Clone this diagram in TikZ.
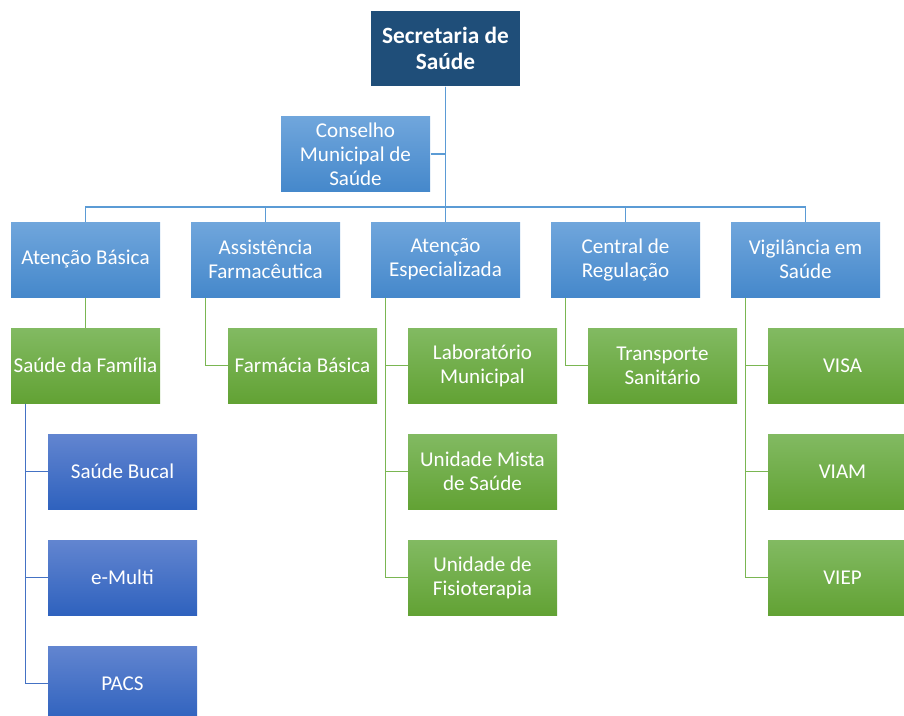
\documentclass[tikz,border=0pt]{standalone}
\usepackage{fontspec}
\setmainfont{Carlito}
\usetikzlibrary{positioning}

\definecolor{secblue}{RGB}{31,78,121}
\definecolor{midtop}{RGB}{112,166,220}
\definecolor{midbot}{RGB}{69,136,203}
\definecolor{grntop}{RGB}{130,186,98}
\definecolor{grnbot}{RGB}{98,162,52}
\definecolor{lowtop}{RGB}{98,133,208}
\definecolor{lowbot}{RGB}{47,98,190}
\definecolor{linblue}{RGB}{91,155,213}
\definecolor{lingrn}{RGB}{122,182,82}
\definecolor{linlow}{RGB}{68,114,196}

\tikzset{
unit/.style={minimum width=111.75pt, minimum height=56.25pt, inner sep=0pt,
    align=center, text=white, font=\fontsize{15.8}{18}\selectfont},
head/.style={unit, fill=secblue, font=\fontsize{17.5}{19.5}\selectfont\bfseries},
dept/.style={unit, top color=midtop, bottom color=midbot},
sector/.style={unit, top color=grntop, bottom color=grnbot},
team/.style={unit, top color=lowtop, bottom color=lowbot},
bluelink/.style={draw=linblue, line width=1.1pt},
greenlink/.style={draw=lingrn, line width=1.1pt},
teamlink/.style={draw=linlow, line width=1.1pt}}
\tikzset{every picture/.style={line width=0.75pt}}

\def\off{11.25pt}

\begin{document}
\begin{tikzpicture}[x=0.75pt,y=0.75pt,yscale=-1,xscale=1]

\useasboundingbox (0,0) rectangle (904,715);
\clip (0,0) rectangle (904,715);

% COORDINATES

\coordinate (bus) at (445.5,207);

% TOP

\node [head] (sec) at (445.5,48.5) {Secretaria de\\Saúde};
\node [dept] (cons) at (355.5,154) {Conselho\\Municipal de\\Saúde};

% DEPARTMENTS

\node [dept] (ab) at (85.5,259.5) {Atenção Básica};
\node [dept] (af) at (265.5,259.5) {Assistência\\Farmacêutica};
\node [dept] (ae) at (445.5,259.5) {Atenção\\Especializada};
\node [dept] (cr) at (625.5,259.5) {Central de\\Regulação};
\node [dept] (vs) at (805.5,259.5) {Vigilância em\\Saúde};

% SECTORS

\node [sector] (sf) at (85.5,365.5) {Saúde da Família};
\node [sector] (fb) at (302.5,365.5) {Farmácia Básica};
\node [sector] (lab) at (482.5,365.5) {Laboratório\\Municipal};
\node [sector] (ums) at (482.5,471.5) {Unidade Mista\\de Saúde};
\node [sector] (uf) at (482.5,577.5) {Unidade de\\Fisioterapia};
\node [sector] (ts) at (662.5,365.5) {Transporte\\Sanitário};
\node [sector] (visa) at (842.5,365.5) {VISA};
\node [sector] (viam) at (842.5,471.5) {VIAM};
\node [sector] (viep) at (842.5,577.5) {VIEP};

% TEAMS

\node [team] (sb) at (122.5,471.5) {Saúde Bucal};
\node [team] (em) at (122.5,577.5) {e-Multi};
\node [team] (pacs) at (122.5,683.5) {PACS};

% LINKS

\draw [bluelink] (cons.east) -- (cons.east -| sec.south);
\foreach \d in {ab,af,ae,cr,vs}{
    \draw [bluelink] (sec.south) |- (bus -| \d.north) -- (\d.north);
}

\draw [greenlink] (ab.south) -- (sf.north);
\draw [greenlink] ([xshift=\off]af.south west) |- (fb.west);
\foreach \s in {lab,ums,uf}{
    \draw [greenlink] ([xshift=\off]ae.south west) |- (\s.west);
}
\draw [greenlink] ([xshift=\off]cr.south west) |- (ts.west);
\foreach \s in {visa,viam,viep}{
    \draw [greenlink] ([xshift=\off]vs.south west) |- (\s.west);
}

\foreach \t in {sb,em,pacs}{
    \draw [teamlink] ([xshift=\off]sf.south west) |- (\t.west);
}

\end{tikzpicture}
\end{document}
